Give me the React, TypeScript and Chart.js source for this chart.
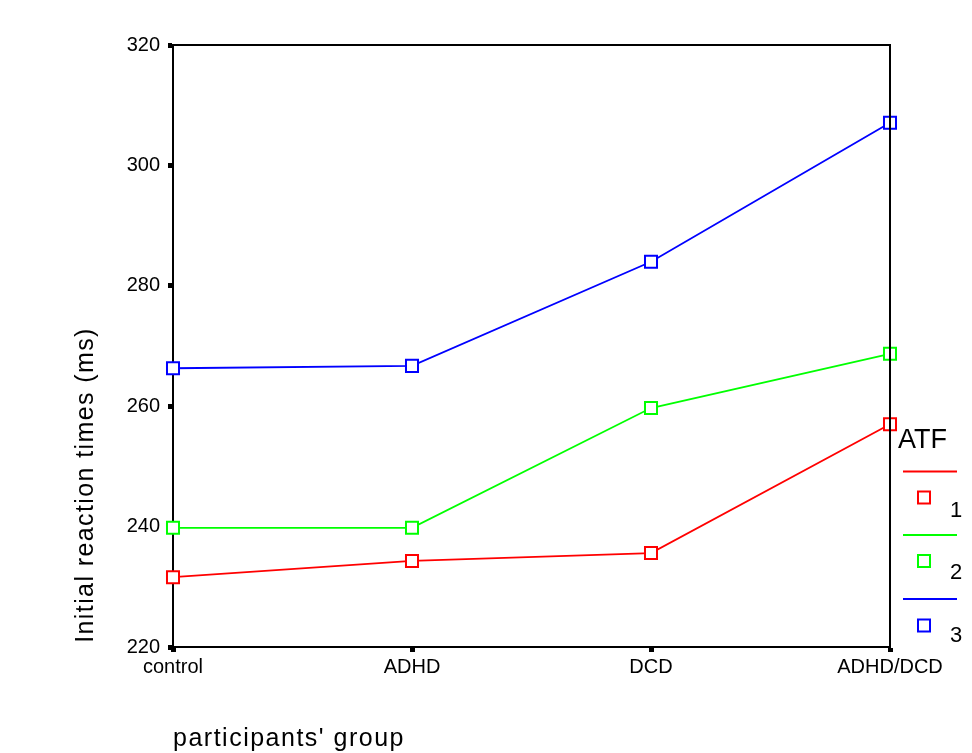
import React, { useEffect, useRef } from "react";
import { Chart, registerables } from "chart.js";

Chart.register(...registerables);

const categories = ["control", "ADHD", "DCD", "ADHD/DCD"];
const atf1 = [231.6, 234.3, 235.6, 257.0];
const atf2 = [239.8, 239.8, 259.7, 268.7];
const atf3 = [266.3, 266.7, 284.0, 307.1];
const seriesLabels = ["1", "2", "3"];
const seriesColors = ["#ff0000", "#00ff00", "#0000ff"];
const yTicks = [220, 240, 260, 280, 300, 320];
const yTitle = "Initial reaction times (ms)";
const xTitle = "participants' group";
const legendTitle = "ATF";

const FONT = "'Liberation Sans', Arial, Helvetica, sans-serif";

const decorPlugin = {
  id: "decor",
  afterDraw(chart: any) {
    const ctx = chart.ctx as CanvasRenderingContext2D;
    const a = chart.chartArea;
    ctx.save();
    // frame top/right
    ctx.strokeStyle = "#000";
    ctx.lineWidth = 2;
    ctx.beginPath();
    ctx.moveTo(a.left, a.top);
    ctx.lineTo(a.right, a.top);
    ctx.lineTo(a.right, a.bottom);
    ctx.stroke();

    ctx.fillStyle = "#000";
    // y title
    ctx.save();
    ctx.translate(86, 485);
    ctx.rotate(-Math.PI / 2);
    ctx.font = `25px ${FONT}`;
    (ctx as any).letterSpacing = "1.4px";
    ctx.textAlign = "center";
    ctx.textBaseline = "middle";
    ctx.fillText(yTitle, 0, 0);
    ctx.restore();

    // x title
    ctx.save();
    ctx.font = `25px ${FONT}`;
    (ctx as any).letterSpacing = "1.5px";
    ctx.textAlign = "left";
    ctx.textBaseline = "alphabetic";
    ctx.fillText(xTitle, 173, 746);
    ctx.restore();

    // legend
    ctx.font = `27px ${FONT}`;
    ctx.textAlign = "left";
    ctx.textBaseline = "alphabetic";
    ctx.fillText(legendTitle, 898, 448);
    const lineYs = [471.5, 535, 599];
    const sqYs = [497.5, 561, 625.5];
    const labYs = [517, 579, 642];
    for (let i = 0; i < seriesLabels.length; i++) {
      ctx.strokeStyle = seriesColors[i];
      ctx.lineWidth = 2;
      ctx.beginPath();
      ctx.moveTo(903, lineYs[i]);
      ctx.lineTo(957, lineYs[i]);
      ctx.stroke();
      ctx.lineWidth = 2;
      ctx.strokeRect(924 - 6, sqYs[i] - 6, 12, 12);
      ctx.fillStyle = "#000";
      ctx.font = `22px ${FONT}`;
      ctx.fillText(seriesLabels[i], 950, labYs[i]);
    }
    ctx.restore();
  },
};

export default function App() {
  const ref = useRef<HTMLCanvasElement | null>(null);
  useEffect(() => {
    document.body.style.margin = "0";
    if (!ref.current) return;
    const data = [atf1, atf2, atf3];
    const chart = new Chart(ref.current, {
      type: "line",
      data: {
        labels: categories,
        datasets: data.map((d, i) => ({
          label: seriesLabels[i],
          data: d,
          borderColor: seriesColors[i],
          backgroundColor: "#ffffff",
          borderWidth: 1.8,
          pointStyle: "rect",
          pointRadius: 8.5,
          pointBorderWidth: 2,
          pointBackgroundColor: "#ffffff",
          pointBorderColor: seriesColors[i],
          tension: 0,
          clip: false as any,
        })),
      },
      options: {
        responsive: false,
        animation: false,
        events: [],
        layout: { padding: { top: 45, right: 82, left: 0, bottom: 0 }, autoPadding: false } as any,
        plugins: { legend: { display: false }, tooltip: { enabled: false }, title: { display: false } },
        scales: {
          x: {
            type: "category",
            offset: false,
            border: { display: true, color: "#000", width: 2 },
            grid: { drawOnChartArea: false, drawTicks: true, tickLength: 5, tickWidth: 5, tickColor: "#000" } as any,
            ticks: { color: "#000", font: { family: FONT, size: 20 }, padding: 3, maxRotation: 0, autoSkip: false },
            afterFit(scale: any) {
              scale.height = 106;
            },
          },
          y: {
            min: 220,
            max: 320,
            border: { display: true, color: "#000", width: 2 },
            grid: { drawOnChartArea: false, drawTicks: true, tickLength: 5, tickWidth: 5, tickColor: "#000" } as any,
            ticks: {
              color: "#000",
              font: { family: FONT, size: 20 },
              padding: 8,
              stepSize: 20,
              callback: (v: any) => (yTicks.includes(Number(v)) ? String(v) : ""),
            },
            afterFit(scale: any) {
              scale.width = 173;
            },
          },
        },
      },
      plugins: [decorPlugin],
    });
    return () => chart.destroy();
  }, []);
  return (
    <div style={{ position: "absolute", left: 0, top: 0, width: 972, height: 753, background: "#fff" }}>
      <canvas ref={ref} width={972} height={753} style={{ width: 972, height: 753, display: "block" }} />
    </div>
  );
}
